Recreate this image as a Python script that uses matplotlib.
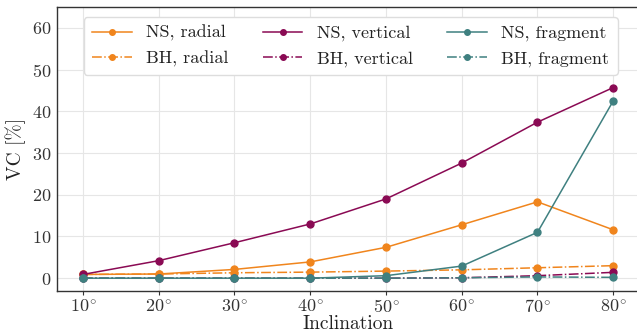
# VC vs inclination for NS and BH, three kick types
import numpy as np
import matplotlib
matplotlib.use("Agg")
import matplotlib.pyplot as plt

plt.rcParams['font.family'] = 'cmr10'
plt.rcParams['mathtext.fontset'] = 'cm'
plt.rcParams['axes.formatter.use_mathtext'] = True

inclination = [10, 20, 30, 40, 50, 60, 70, 80]

ns_radial = [0.9, 1.0, 2.1, 3.9, 7.4, 12.8, 18.3, 11.6]
ns_vertical = [0.9, 4.2, 8.5, 13.0, 19.0, 27.6, 37.4, 45.7]
ns_fragment = [0.0, 0.0, 0.0, 0.0, 0.6, 2.9, 11.0, 42.5]
bh_radial = [0.9, 1.0, 1.3, 1.45, 1.7, 2.0, 2.5, 3.0]
bh_vertical = [0.0, 0.0, 0.0, 0.0, 0.0, 0.1, 0.6, 1.4]
bh_fragment = [0.0, 0.0, 0.0, 0.0, 0.0, 0.1, 0.3, 0.2]

orange = '#f0851d'
purple = '#8a0a54'
teal = '#3f8080'

fig = plt.figure(figsize=(6.37, 3.35), dpi=100)
ax = fig.add_axes([0.0895, 0.131, 0.914, 0.848])

ax.plot(inclination, ns_radial, '-o', color=orange, lw=1.1, ms=5, label='NS, radial')
ax.plot(inclination, bh_radial, '-.o', color=orange, lw=1.1, ms=5, label='BH, radial')
ax.plot(inclination, ns_vertical, '-o', color=purple, lw=1.1, ms=5, label='NS, vertical')
ax.plot(inclination, bh_vertical, '-.o', color=purple, lw=1.1, ms=5, label='BH, vertical')
ax.plot(inclination, ns_fragment, '-o', color=teal, lw=1.1, ms=5, label='NS, fragment')
ax.plot(inclination, bh_fragment, '-.o', color=teal, lw=1.1, ms=5, label='BH, fragment')

ax.set_xlim(6.57, 83.43)
ax.set_ylim(-3.1, 65)
ax.set_xticks(inclination)
ax.set_xticklabels([r'$%d^{\!\circ}$' % v for v in inclination])
ax.set_yticks([0, 10, 20, 30, 40, 50, 60])
ax.grid(True, color='#e6e6e6', lw=0.8)
ax.set_axisbelow(True)

ax.tick_params(axis='both', labelsize=13, colors='#333333', labelcolor='#333333')
ax.tick_params(axis='y', length=0, pad=4)
ax.tick_params(axis='x', length=3, width=0.8, pad=2)
for s in ['left', 'bottom', 'top']:
    ax.spines[s].set_color('#333333')
    ax.spines[s].set_linewidth(1.0)
ax.spines['right'].set_visible(False)

ax.set_xlabel('Inclination', fontsize=14, color='#222222', labelpad=0)
ax.set_ylabel('VC [%]', fontsize=14, color='#222222', labelpad=4)

leg = ax.legend(ncol=3, loc='upper left', bbox_to_anchor=(0.046, 0.965), borderaxespad=0,
                fontsize=13, frameon=True, fancybox=True, framealpha=1, edgecolor='#dddddd',
                markerscale=0.8, borderpad=0.45,
                columnspacing=1.9, handlelength=2.2, handletextpad=0.8, labelspacing=0.5)
for t in leg.get_texts():
    t.set_color('#222222')

fig.savefig('out.png', dpi=100)
